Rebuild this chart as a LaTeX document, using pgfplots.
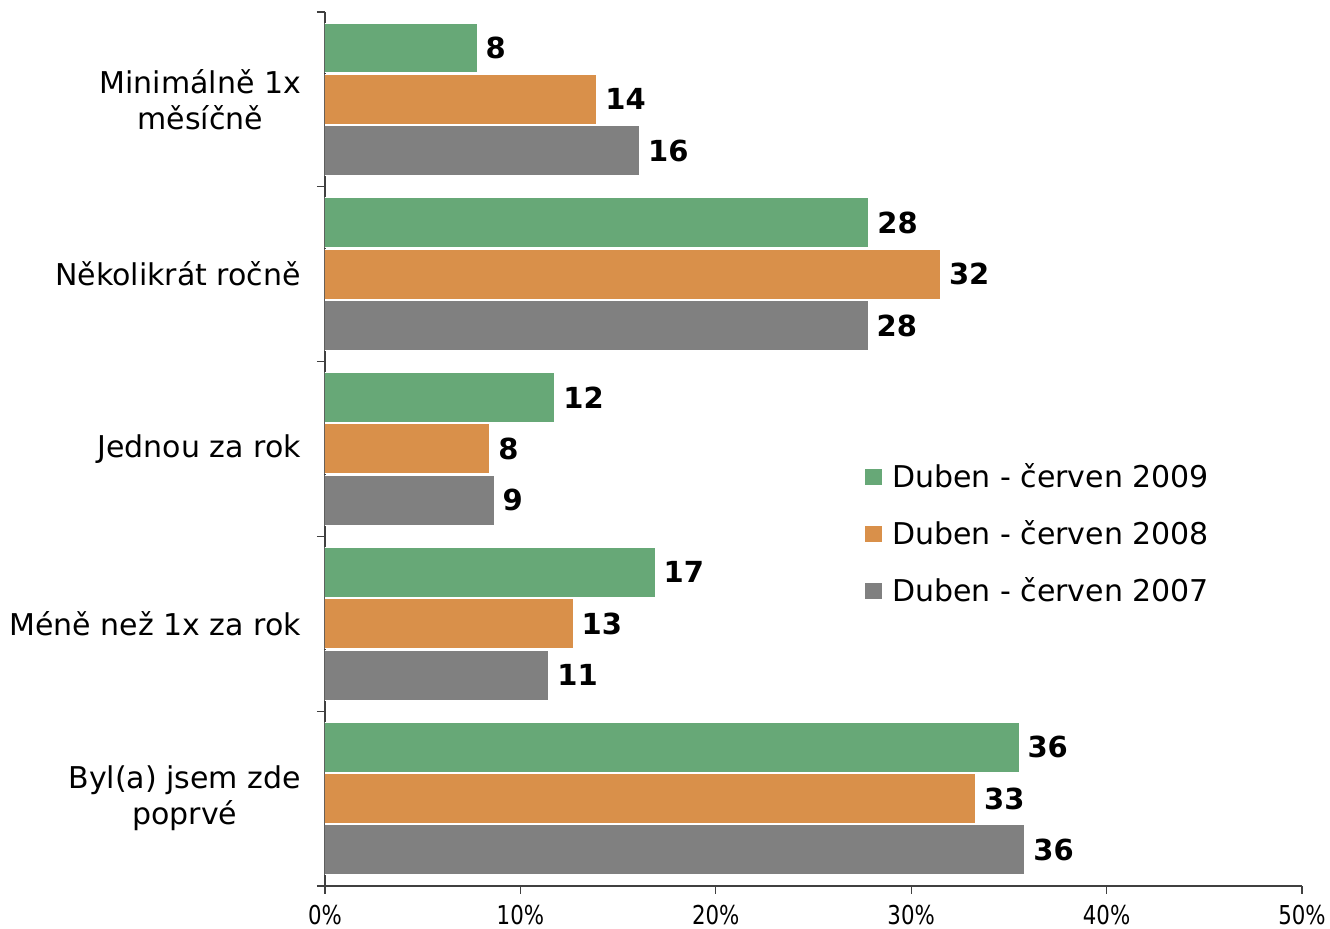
\documentclass[border=0pt]{standalone}
\usepackage{fontspec}
\setmainfont{DejaVu Sans}
\newfontfamily\narrowfont[FakeStretch=0.82]{DejaVu Sans}
\usepackage{pgfplots}
\pgfplotsset{compat=1.18}
\definecolor{cgreen}{HTML}{67A877}
\definecolor{corange}{HTML}{D9904A}
\definecolor{cgray}{HTML}{808080}
\definecolor{axisgray}{HTML}{404040}
\begin{document}
\begin{tikzpicture}
\useasboundingbox (-162.5pt,-21.5pt) rectangle (502.5pt,443pt);
\begin{axis}[
  at={(0,0)}, anchor=south west,
  width=488.5pt, height=437pt, scale only axis,
  xmin=0, xmax=50, ymin=-0.5, ymax=4.5,
  axis x line*=bottom, axis y line*=left,
  axis line style={axisgray, line width=0.6pt},
  tick style={axisgray, line width=0.6pt},
  tick align=outside,
  major tick length=4pt,
  xtick={0,10,...,50},
  xticklabel={\pgfmathprintnumber{\tick}\%},
  /pgf/number format/assume math mode=true,
  xticklabel style={font=\narrowfont\fontsize{13}{15}\selectfont, yshift=-2pt},
  ytick={-0.5,0.5,1.5,2.5,3.5,4.5},
  yticklabels={},
  extra y ticks={0,1,2,3,4},
  extra y tick labels={Byl(a) jsem zde\\poprvé, Méně než 1x za rok, Jednou za rok, Několikrát ročně, Minimálně 1x\\měsíčně},
  extra y tick style={major tick length=0pt},
  yticklabel style={font=\fontsize{15}{18}\selectfont, align=center, xshift=-8.5pt},
  xbar, bar width=0.286,
  point meta=explicit symbolic,
  nodes near coords,
  every node near coord/.append style={font=\bfseries\fontsize{14.5}{17}\selectfont, text=black, anchor=west, inner xsep=4pt},
  legend style={at={(0.5527,0.4027)}, anchor=west, draw=none, fill=none,
    font=\fontsize{15}{18}\selectfont, row sep=11pt, inner xsep=0pt,
    nodes={inner xsep=5pt}},
  legend cell align=left,
  legend image code/.code={\fill[#1,draw=none] (0pt,-4.2pt) rectangle (8.4pt,4.2pt);},
]
\addplot[fill=cgreen, draw=white, line width=0.5pt, bar shift=0.294] coordinates {
 (7.78,4) [8] (27.84,3) [28] (11.77,2) [12] (16.9,1) [17] (35.52,0) [36]};
\addplot[fill=corange, draw=white, line width=0.5pt, bar shift=0] coordinates {
 (13.92,4) [14] (31.5,3) [32] (8.44,2) [8] (12.7,1) [13] (33.3,0) [33]};
\addplot[fill=cgray, draw=white, line width=0.5pt, bar shift=-0.294] coordinates {
 (16.1,4) [16] (27.8,3) [28] (8.65,2) [9] (11.46,1) [11] (35.82,0) [36]};
\legend{Duben - červen 2009, Duben - červen 2008, Duben - červen 2007}
\end{axis}
\end{tikzpicture}
\end{document}
